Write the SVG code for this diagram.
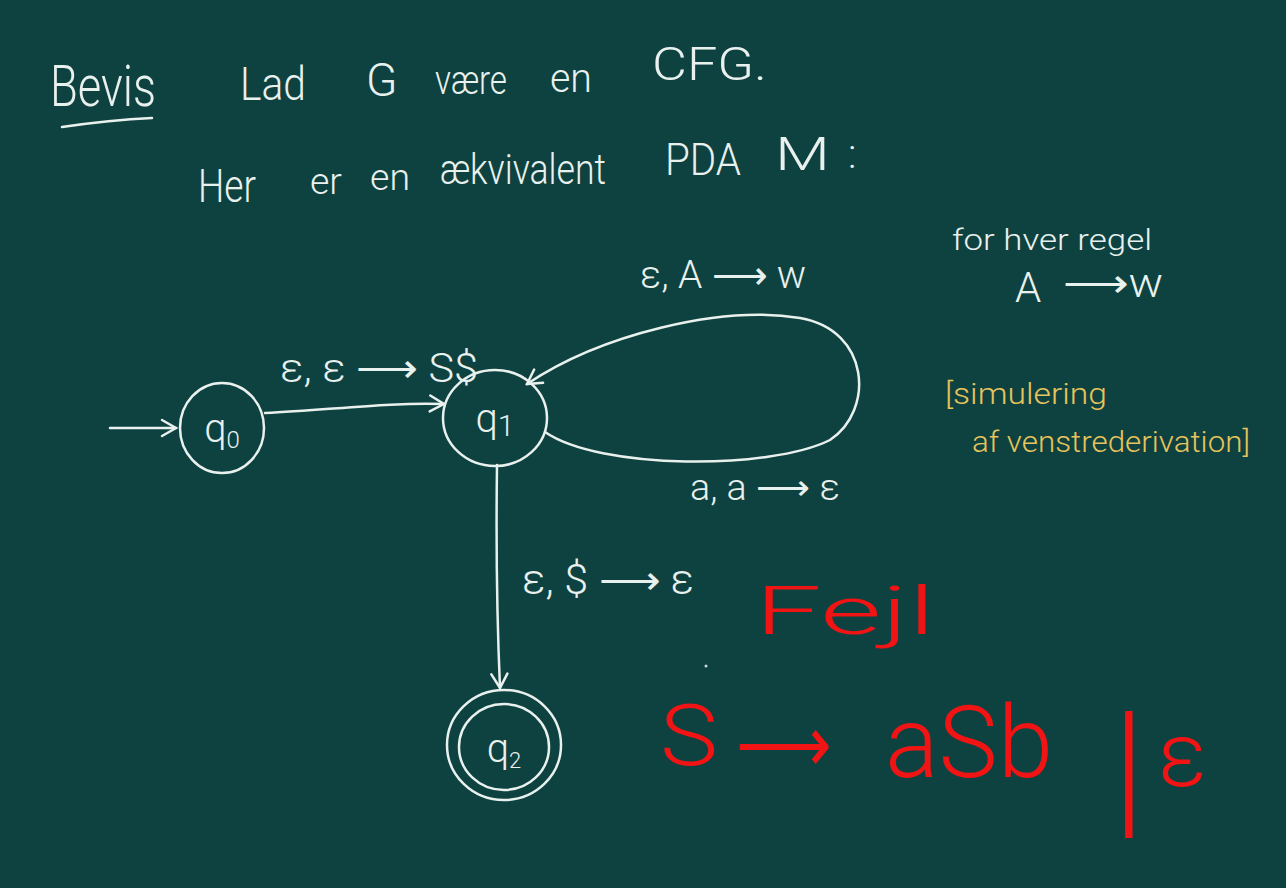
<svg xmlns="http://www.w3.org/2000/svg" width="1286" height="888" viewBox="0 0 1286 888">
<style>
text{font-family:Roboto,"Liberation Sans","DejaVu Sans",sans-serif;font-weight:300}
.w{fill:#e9f1ee}
.y{fill:#e7c35b}
.r{fill:#f01414}
.st{fill:none;stroke:#e9f1ee;stroke-width:2.5;stroke-linecap:round}
.rs{fill:none;stroke:#f01414;stroke-width:2.5;stroke-linecap:round}
</style>
<defs>
<marker id="ah" viewBox="0 0 20 20" refX="18" refY="10" markerWidth="20" markerHeight="20" markerUnits="userSpaceOnUse" orient="auto">
<path d="M4,2 L18,10 L4,18" fill="none" stroke="#e9f1ee" stroke-width="2.5" stroke-linecap="round"/>
</marker>
</defs>
<rect width="1286" height="888" fill="#0e4240"/>

<g id="title">
<text class="w" x="50" y="106" font-size="58" textLength="106" lengthAdjust="spacingAndGlyphs">Bevis</text>
<path class="st" d="M62,127 Q110,120 152,118"/>
<text class="w" x="240" y="100" font-size="46" textLength="66" lengthAdjust="spacingAndGlyphs">Lad</text>
<text class="w" x="366" y="96" font-size="46">G</text>
<text class="w" x="435" y="94" font-size="40" textLength="72" lengthAdjust="spacingAndGlyphs">være</text>
<text class="w" x="550" y="92" font-size="40" textLength="42" lengthAdjust="spacingAndGlyphs">en</text>
<text class="w" x="652" y="80" font-size="46" textLength="115" lengthAdjust="spacingAndGlyphs">CFG.</text>
</g>
<g id="subtitle">
<text class="w" x="198" y="202" font-size="46" textLength="58" lengthAdjust="spacingAndGlyphs">Her</text>
<text class="w" x="310" y="194" font-size="36" textLength="32" lengthAdjust="spacingAndGlyphs">er</text>
<text class="w" x="370" y="190" font-size="36" textLength="40" lengthAdjust="spacingAndGlyphs">en</text>
<text class="w" x="440" y="184" font-size="42" textLength="166" lengthAdjust="spacingAndGlyphs">ækvivalent</text>
<text class="w" x="665" y="175" font-size="44" textLength="76" lengthAdjust="spacingAndGlyphs">PDA</text>
<text class="w" x="775" y="170" font-size="46" textLength="55" lengthAdjust="spacingAndGlyphs">M</text>
<text class="w" x="848" y="168" font-size="40">:</text>
</g>
<g id="note">
<text class="w" x="952" y="250" font-size="30" textLength="200" lengthAdjust="spacingAndGlyphs">for hver regel</text>
<text class="w" x="1015" y="302" font-size="42">A</text>
<text class="w" x="1063" y="297" font-size="40" textLength="100" lengthAdjust="spacingAndGlyphs">⟶w</text>
<text class="y" x="945" y="404" font-size="30" textLength="162" lengthAdjust="spacingAndGlyphs">[simulering</text>
<text class="y" x="972" y="452" font-size="30" textLength="278" lengthAdjust="spacingAndGlyphs">af venstrederivation]</text>
</g>

<g id="connectors">
<path class="st" d="M110,428 L176,428" marker-end="url(#ah)"/>
<path class="st" d="M265,413 C330,410 390,402 444,404" marker-end="url(#ah)"/>
<path class="st" d="M545,432 C600,470 770,470 830,440 C875,410 870,330 800,318 C720,305 600,335 527,384" marker-end="url(#ah)"/>
<path class="st" d="M497,465 C496,540 497,620 500,688" marker-end="url(#ah)"/>
</g>
<g id="edge-labels">
<text class="w" x="280" y="382" font-size="40" textLength="198" lengthAdjust="spacingAndGlyphs">ε, ε ⟶ S$</text>
<text class="w" x="640" y="288" font-size="38" textLength="166" lengthAdjust="spacingAndGlyphs">ε, A ⟶ w</text>
<text class="w" x="690" y="500" font-size="36" textLength="150" lengthAdjust="spacingAndGlyphs">a, a ⟶ ε</text>
<text class="w" x="522" y="594" font-size="42" textLength="172" lengthAdjust="spacingAndGlyphs">ε, $ ⟶ ε</text>
</g>

<g id="q0">
<ellipse class="st" cx="222" cy="428" rx="42" ry="45"/>
<text class="w" x="222" y="442" font-size="40" text-anchor="middle">q<tspan font-size="24" dy="6">0</tspan></text>
</g>
<g id="q1">
<ellipse class="st" cx="495" cy="418" rx="52" ry="48"/>
<text class="w" x="495" y="432" font-size="40" text-anchor="middle">q<tspan font-size="30" dy="4">1</tspan></text>
</g>
<g id="q2">
<ellipse class="st" cx="504" cy="745" rx="57" ry="55"/>
<ellipse class="st" cx="504" cy="747" rx="45" ry="43"/>
<text class="w" x="504" y="762" font-size="40" text-anchor="middle">q<tspan font-size="22" dy="6">2</tspan></text>
</g>

<g id="red-notes">
<text class="r" x="755" y="634" font-size="66" textLength="180" lengthAdjust="spacingAndGlyphs">Fejl</text>
<circle cx="706" cy="666" r="1.5" fill="#c9d6d3"/>
<text class="r" x="660" y="765" font-size="86" textLength="58" lengthAdjust="spacingAndGlyphs">S</text>
<text class="r" x="736" y="772" font-size="80" textLength="96" lengthAdjust="spacingAndGlyphs">⟶</text>
<text class="r" x="885" y="777" font-size="100" textLength="168" lengthAdjust="spacingAndGlyphs">aSb</text>
<text class="r" x="1112" y="818" font-size="150" font-weight="100">|</text>
<text class="r" x="1158" y="786" font-size="90">ε</text>
</g>
</svg>
